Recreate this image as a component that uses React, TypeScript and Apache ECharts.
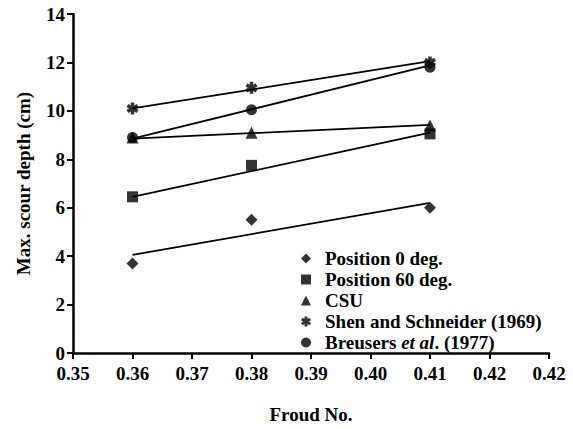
import React, { useEffect, useRef } from "react";
import * as echarts from "echarts";

const froude = [0.36, 0.38, 0.41];
const pos0 = [3.7, 5.5, 6.0];
const pos60 = [6.45, 7.75, 9.05];
const csu = [8.9, 9.1, 9.4];
const shen = [10.1, 10.95, 12.0];
const breusers = [8.9, 10.05, 11.8];

const trendX = [0.36, 0.41];
const pos0Trend = [4.05, 6.2];
const pos60Trend = [6.45, 9.1];
const csuTrend = [8.85, 9.42];
const shenTrend = [10.1, 12.05];
const breusersTrend = [8.85, 11.88];

const xTickLabels = ["0.35", "0.36", "0.37", "0.38", "0.39", "0.40", "0.41", "0.42", "0.42"];
const seriesNames = [
  "Position 0 deg.",
  "Position 60 deg.",
  "CSU",
  "Shen and Schneider (1969)",
  "Breusers et al. (1977)",
];

const FONT = "Liberation Serif";
const ASTERISK =
  "path://M-1.5,-5L1.5,-5L1.5,5L-1.5,5Z M3.58,-3.8L5.08,-1.2L-3.58,3.8L-5.08,1.2Z M5.08,1.2L3.58,3.8L-5.08,-1.2L-3.58,-3.8Z";

const pairs = (xs: number[], ys: number[]) => xs.map((x, i) => [x, ys[i]]);

export default function App() {
  const ref = useRef<HTMLDivElement>(null);
  useEffect(() => {
    if (!ref.current) return;
    const chart = echarts.init(ref.current, undefined, { renderer: "svg" });
    const symbols = ["diamond", "rect", "triangle", ASTERISK, "circle"];
    const sizes = [12, 11, 12, 12, 11];
    const values = [pos0, pos60, csu, shen, breusers];
    const trends = [pos0Trend, pos60Trend, csuTrend, shenTrend, breusersTrend];

    const lineSeries = trends.map((t) => ({
      type: "line",
      data: pairs(trendX, t),
      showSymbol: false,
      symbol: "none",
      lineStyle: { color: "#000", width: 1.8 },
      silent: true,
      z: 2,
    }));
    const scatterSeries = values.map((v, i) => ({
      name: seriesNames[i],
      type: "scatter",
      data: pairs(froude, v),
      symbol: symbols[i],
      symbolSize: sizes[i],
      itemStyle: { color: "#000" },
      z: 3,
    }));

    const txt = { fontFamily: FONT, fontSize: 19, fontWeight: "bold" as const, color: "#000" };
    const rb = { ...txt, lineHeight: 21 };

    chart.setOption({
      animation: false,
      backgroundColor: "#fff",
      textStyle: { fontFamily: FONT },
      grid: { left: 73, right: 24, top: 14, bottom: 70 },
      legend: {
        orient: "vertical",
        left: 301,
        top: 248,
        padding: 0,
        itemWidth: 10,
        itemHeight: 10,
        itemGap: 0,
        data: seriesNames,
        formatter: (name: string) =>
          name === "Breusers et al. (1977)"
            ? "{s|}{b|Breusers }{i|et al}{b|. (1977)}"
            : "{s|}{b|" + name + "}",
        textStyle: {
          ...rb,
          rich: {
            s: { width: 9, lineHeight: 21 },
            b: rb,
            i: { ...rb, fontStyle: "italic" },
          },
        },
      },
      xAxis: {
        type: "value",
        min: 0.35,
        max: 0.43,
        interval: 0.01,
        name: "Froud No.",
        nameLocation: "middle",
        nameGap: 52,
        nameTextStyle: txt,
        axisLine: { show: true, onZero: false, lineStyle: { color: "#000", width: 2.5 } },
        axisTick: { show: true, length: 6, lineStyle: { color: "#000", width: 2 } },
        axisLabel: {
          ...txt,
          margin: 11,
          formatter: (v: number) => xTickLabels[Math.round((v - 0.35) / 0.01)] ?? "",
        },
        splitLine: { show: false },
      },
      yAxis: {
        type: "value",
        min: 0,
        max: 14,
        interval: 2,
        name: "Max. scour depth (cm)",
        nameLocation: "middle",
        nameGap: 40,
        nameTextStyle: txt,
        axisLine: { show: true, lineStyle: { color: "#000", width: 2.5 } },
        axisTick: { show: true, length: 6, lineStyle: { color: "#000", width: 2 } },
        axisLabel: { ...txt, margin: 8 },
        splitLine: { show: false },
      },
      series: [...lineSeries, ...scatterSeries],
    });
    return () => chart.dispose();
  }, []);
  return (
    <div
      ref={ref}
      style={{ position: "absolute", left: 0, top: 0, width: 573, height: 429, background: "#fff" }}
    />
  );
}
